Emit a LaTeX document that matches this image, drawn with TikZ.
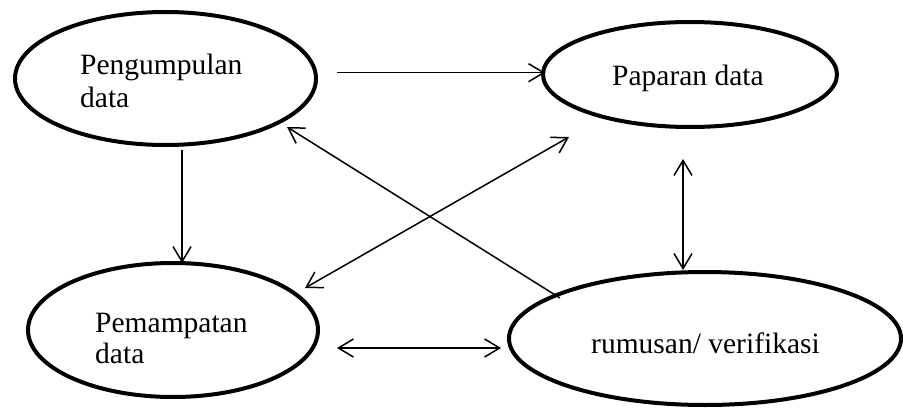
\documentclass[tikz,border=0pt]{standalone}
\usepackage{fontspec}
\setmainfont{Liberation Serif}
\usetikzlibrary{shapes.geometric,arrows.meta}
\begin{document}
\begin{tikzpicture}[x=1pt,y=1pt,
  stage/.style={draw, ellipse, line width=4pt, inner sep=0pt},
  lbl/.style={anchor=base west, inner sep=0pt, font=\fontsize{29.5}{32}\selectfont},
  flow/.style={line width=1.5pt, -{Straight Barb[length=15pt,width=18pt]}},
  both/.style={line width=1.5pt, {Straight Barb[length=15pt,width=18pt]}-{Straight Barb[length=15pt,width=18pt]}}]
\useasboundingbox (0,0) rectangle (903,408);

% the four stages
\node[stage, minimum width=301pt, minimum height=133pt] (A) at (165.5,329.5) {};
\node[stage, minimum width=294pt, minimum height=105pt] (B) at (690,333.5) {};
\node[stage, minimum width=290pt, minimum height=134pt] (C) at (173,78) {};
\node[stage, minimum width=392pt, minimum height=133pt] (D) at (705,69.5) {};

% stage names
\node[lbl] (A1) at (80,333) {Pengumpulan};
\node[lbl] (A2) at (80,301) {data};
\node[lbl] (B1) at (612,323) {Paparan data};
\node[lbl] (C1) at (95,76) {Pemampatan};
\node[lbl] (C2) at (95,45) {data};
\node[lbl] (D1) at (591,55) {rumusan/ verifikasi};

% connectors
\draw[flow] ([shift={(19,5.8)}]A.east) -- ([shift={(4,1.8)}]B.west);
\draw[flow] ([shift={(16.5,-3)}]A.south) -- ([shift={(9,-2)}]C.north);
\draw[flow] ([shift={(-145,40.5)}]D.center) -- ([shift={(121.5,-48.5)}]A.center);
\draw[both] ([shift={(132,42)}]C.center) -- ([shift={(-121,-62.5)}]B.center);
\draw[both] ([shift={(17,-18)}]C.east) -- ([shift={(-6,-9.5)}]D.west);
\draw[both] ([shift={(-7,-30)}]B.south) -- ([shift={(-22,0)}]D.north);
\end{tikzpicture}
\end{document}
